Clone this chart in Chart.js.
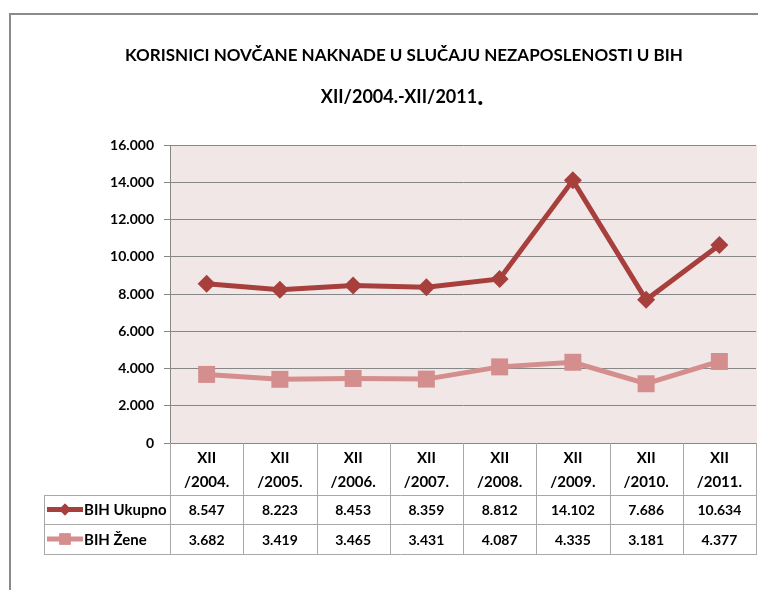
<!DOCTYPE html>
<html>
<head>
<meta charset="utf-8">
<script src="https://cdn.jsdelivr.net/npm/chart.js@4/dist/chart.umd.min.js"></script>
<style>
  html, body { margin: 0; padding: 0; background: #ffffff; }
  #wrap { width: 758px; height: 590px; position: relative; }
</style>
</head>
<body>
<div id="wrap"><canvas id="c" width="758" height="590"></canvas></div>
<script>
// ---- data ----
const titleLine1 = 'KORISNICI NOVČANE NAKNADE U SLUČAJU NEZAPOSLENOSTI U BIH';
const titleLine2 = 'XII/2004.-XII/2011';
const months = ['XII', 'XII', 'XII', 'XII', 'XII', 'XII', 'XII', 'XII'];
const years = ['/2004.', '/2005.', '/2006.', '/2007.', '/2008.', '/2009.', '/2010.', '/2011.'];
const seriesNames = ['BIH Ukupno', 'BIH Žene'];
const ukupno = [8547, 8223, 8453, 8359, 8812, 14102, 7686, 10634];
const zene = [3682, 3419, 3465, 3431, 4087, 4335, 3181, 4377];
const yTicks = { min: 0, max: 16000, step: 2000 };

const FONT = 'Lato, "Liberation Sans", sans-serif';
const COL_UK = '#A7403D';
const COL_ZE = '#D48E8D';
const GRID = '#878787';
const TABLE_LINE = '#A8A8A8';

function fmt(v) {
  return String(v).replace(/\B(?=(\d{3})+(?!\d))/g, '.');
}

const labels = months.map((m, i) => [m, years[i]]);

const decorPlugin = {
  id: 'decor',
  beforeDraw(chart) {
    const { ctx, chartArea: a } = chart;
    ctx.save();
    ctx.fillStyle = '#F2E7E7';
    ctx.fillRect(a.left, a.top, a.right - a.left + 1, a.bottom - a.top);
    ctx.restore();
  },
  afterDraw(chart) {
    const { ctx, chartArea: a } = chart;
    const xs = chart.scales.x;
    const n = labels.length;
    ctx.save();
    // outer frame
    ctx.strokeStyle = '#8A8A8A';
    ctx.lineWidth = 2;
    ctx.beginPath();
    ctx.moveTo(10, 590);
    ctx.lineTo(10, 14);
    ctx.lineTo(758, 14);
    ctx.stroke();

    // title
    ctx.fillStyle = '#000';
    ctx.textAlign = 'center';
    ctx.textBaseline = 'middle';
    ctx.font = 'bold 17px ' + FONT;
    ctx.fillText(titleLine1, 404, 56);
    ctx.font = 'bold 18px ' + FONT;
    const w2 = ctx.measureText(titleLine2).width;
    ctx.textAlign = 'left';
    ctx.fillText(titleLine2, 403 - w2 / 2 - 4, 97);
    ctx.font = 'bold 26px ' + FONT;
    ctx.fillText('.', 403 + w2 / 2 - 4, 97);

    // table geometry
    const rowTop = 495, rowMid = 524, rowBot = 554, tableLeft = 44;
    const half = (xs.getPixelForValue(1) - xs.getPixelForValue(0)) / 2;
    const right = xs.getPixelForValue(n - 1) + half;

    ctx.strokeStyle = TABLE_LINE;
    ctx.lineWidth = 1;
    ctx.beginPath();
    [rowTop, rowMid, rowBot].forEach(y => {
      ctx.moveTo(tableLeft, y + 0.5);
      ctx.lineTo(right + 1, y + 0.5);
    });
    ctx.moveTo(tableLeft + 0.5, rowTop);
    ctx.lineTo(tableLeft + 0.5, rowBot + 1);
    for (let i = 0; i <= n; i++) {
      const bx = Math.round(xs.getPixelForValue(0) - half + i * 2 * half) + 0.5;
      ctx.moveTo(bx, a.bottom);
      ctx.lineTo(bx, rowBot + 1);
    }
    ctx.stroke();

    // values
    ctx.fillStyle = '#000';
    ctx.textAlign = 'center';
    ctx.textBaseline = 'middle';
    ctx.font = 'bold 14px ' + FONT;
    const rows = [ukupno, zene];
    const ys = [(rowTop + rowMid) / 2 + 1, (rowMid + rowBot) / 2 + 1];
    rows.forEach((arr, r) => {
      arr.forEach((v, i) => {
        ctx.fillText(fmt(v), xs.getPixelForValue(i), ys[r]);
      });
    });

    // legend keys in table
    chart.data.datasets.forEach((ds, r) => {
      const y = ys[r] - 1;
      ctx.strokeStyle = ds.borderColor;
      ctx.lineWidth = 5;
      ctx.beginPath();
      ctx.moveTo(47, y);
      ctx.lineTo(83, y);
      ctx.stroke();
      ctx.fillStyle = ds.borderColor;
      if (r === 0) {
        Chart.helpers.drawPoint(ctx, { pointStyle: 'rectRot', radius: 6, borderWidth: 0 }, 65, y);
      } else {
        Chart.helpers.drawPoint(ctx, { pointStyle: 'rect', radius: 8, borderWidth: 0 }, 65, y);
      }
      ctx.fill();
      ctx.fillStyle = '#000';
      ctx.textAlign = 'left';
      ctx.font = 'bold 15px ' + FONT;
      ctx.fillText(seriesNames[r], 84, y + 1);
    });
    ctx.restore();
  }
};

new Chart(document.getElementById('c'), {
  type: 'line',
  data: {
    labels: labels,
    datasets: [
      {
        label: seriesNames[0],
        data: ukupno,
        borderColor: COL_UK,
        backgroundColor: COL_UK,
        borderWidth: 5,
        pointStyle: 'rectRot',
        pointRadius: 9,
        pointHoverRadius: 9,
        pointBorderWidth: 0,
        tension: 0
      },
      {
        label: seriesNames[1],
        data: zene,
        borderColor: COL_ZE,
        backgroundColor: COL_ZE,
        borderWidth: 5,
        pointStyle: 'rect',
        pointRadius: 12,
        pointHoverRadius: 12,
        pointBorderWidth: 0,
        tension: 0
      }
    ]
  },
  options: {
    responsive: false,
    animation: false,
    devicePixelRatio: 1,
    layout: { autoPadding: false, padding: { left: 0, right: 2, top: 145, bottom: 36 } },
    plugins: {
      legend: { display: false },
      title: { display: false },
      tooltip: { enabled: false }
    },
    scales: {
      x: {
        offset: true,
        grid: { display: false },
        border: { display: false },
        ticks: {
          color: '#000',
          font: { family: FONT, size: 15, weight: 'bold', lineHeight: '24px' },
          padding: -5,
          maxRotation: 0,
          autoSkip: false
        },
        afterFit: s => { s.height = 111; s.paddingLeft = 0; s.paddingRight = 0; }
      },
      y: {
        min: yTicks.min,
        max: yTicks.max,
        grid: { color: GRID, tickLength: 6, lineWidth: 1 },
        border: { color: GRID },
        ticks: {
          stepSize: yTicks.step,
          color: '#000',
          padding: 10,
          font: { family: FONT, size: 14, weight: 'bold' },
          callback: v => fmt(v)
        },
        afterFit: s => { s.width = 170; }
      }
    }
  },
  plugins: [decorPlugin]
});
</script>
</body>
</html>
